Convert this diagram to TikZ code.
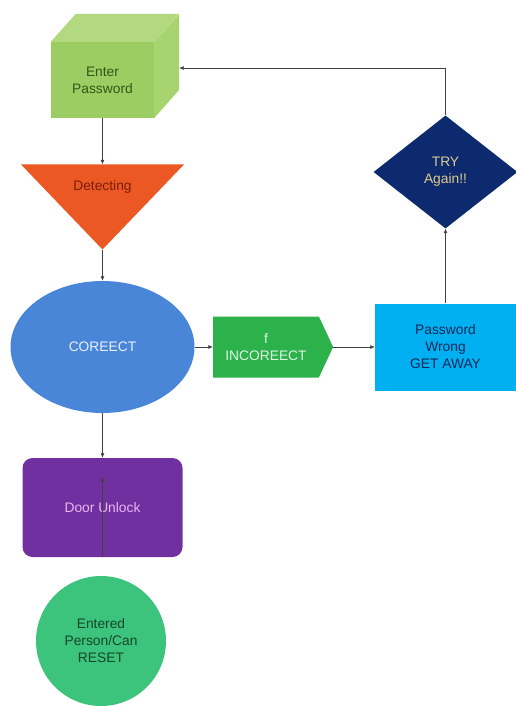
\documentclass[tikz,border=0pt]{standalone}
\usepackage{fontspec}
\setmainfont{Liberation Sans}
\usetikzlibrary{shapes.geometric,shapes.symbols,arrows.meta,calc}

\begin{document}
\begin{tikzpicture}[x=1pt,y=-1pt,
    every node/.style={font=\fontsize{13.8}{17}\selectfont, align=center, inner sep=0pt},
    link/.style={draw=black!75, line width=0.6pt, -{Latex[length=4.5pt,width=4pt]}}]
    % colours
    \definecolor{cubefront}{RGB}{156,205,98}
    \definecolor{cubetop}{RGB}{178,216,128}
    \definecolor{cubeside}{RGB}{168,212,112}
    \definecolor{pwdtext}{RGB}{48,88,22}
    \definecolor{detorange}{RGB}{236,88,36}
    \definecolor{dettext}{RGB}{120,30,10}
    \definecolor{corrblue}{RGB}{74,134,216}
    \definecolor{incgreen}{RGB}{44,178,74}
    \definecolor{wrongcyan}{RGB}{0,176,240}
    \definecolor{wrongtext}{RGB}{20,40,90}
    \definecolor{trynavy}{RGB}{14,42,110}
    \definecolor{trytext}{RGB}{222,204,140}
    \definecolor{doorpurple}{RGB}{112,48,160}
    \definecolor{doortext}{RGB}{232,184,242}
    \definecolor{resetgreen}{RGB}{60,196,124}
    \definecolor{resettext}{RGB}{20,70,40}

    \useasboundingbox (0,0) rectangle (516,706);

    % Enter Password cube
    \node[fill=cubefront, minimum width=103, minimum height=76, text=pwdtext] (pwd) at (102.5,80) {Enter\\Password};
    \fill[cubetop] (pwd.north west) -- ++(25,-28) -- ++(103,0) -- (pwd.north east) -- cycle;
    \fill[cubeside] (pwd.north east) -- ++(25,-28) -- ++(0,76) -- (pwd.south east) -- cycle;
    \coordinate (pwdside) at ($(pwd.east)+(25,-12)$);

    % Detecting triangle
    \node[isosceles triangle, isosceles triangle stretches, shape border rotate=270,
          fill=detorange, minimum width=163, minimum height=85, anchor=apex] (det) at (102.5,250) {};
    \node[text=dettext] (dettxt) at (102.5,187) {Detecting};

    % COREECT ellipse
    \node[ellipse, fill=corrblue, minimum width=184, minimum height=132, text=white!88!corrblue] (corr) at (102.5,347) {COREECT};

    % INCOREECT signal
    \node[signal, signal to=east, signal pointer angle=130, fill=incgreen, minimum width=120, minimum height=61,
          text=white!85!incgreen] (inc) at (266,347) {f\\INCOREECT};

    % Password Wrong box
    \node[fill=wrongcyan, minimum width=141, minimum height=87, text=wrongtext] (wrong) at (445.5,347) {Password\\Wrong\\GET AWAY};

    % TRY Again diamond
    \node[diamond, aspect=1.27, fill=trynavy, minimum width=144, minimum height=113, text=trytext] (try) at (445.5,172) {TRY\\Again!!};

    % Door Unlock box
    \node[fill=doorpurple, rounded corners=10, minimum width=160, minimum height=99, text=doortext] (door) at (102.5,507.5) {Door Unlock};
    \coordinate (doorpin) at (102.5,477);

    % Entered Person circle
    \node[circle, fill=resetgreen, minimum size=130, text=resettext] (reset) at (101,641) {Entered\\Person/Can\\RESET};

    % connectors
    \draw[link] (pwd.south) -- (det.north);
    \draw[link] (det.apex) -- (corr.north);
    \draw[link] (corr.east) -- (inc.west);
    \draw[link] (inc.east) -- (wrong.west);
    \draw[link] (wrong.north) -- (try.south);
    \draw[link] (try.north) |- (pwdside);
    \draw[link] (corr.south) -- (door.north);
    \draw[link] (door.south) -- (doorpin);
\end{tikzpicture}
\end{document}
